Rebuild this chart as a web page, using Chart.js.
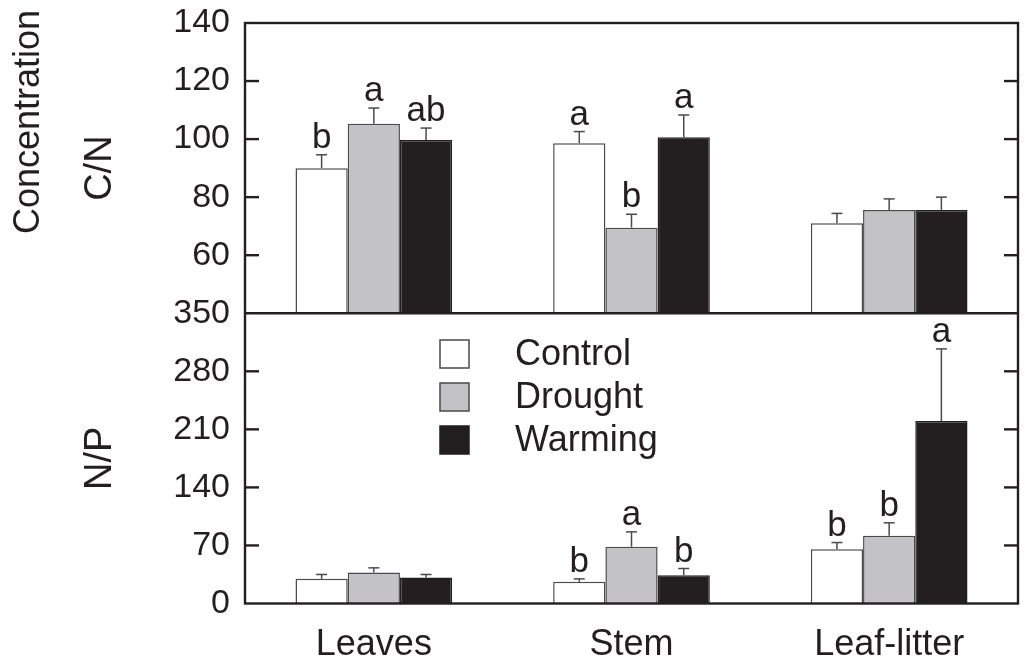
<!DOCTYPE html>
<html>
<head>
<meta charset="utf-8">
<title>C/N and N/P concentration ratios</title>
<script src="https://cdn.jsdelivr.net/npm/chart.js@4/dist/chart.umd.min.js"></script>
<style>
  html, body { margin: 0; padding: 0; background: #fff; }
  #wrap { position: relative; width: 1026px; height: 661px; }
</style>
</head>
<body>
<div id="wrap"><canvas id="ratios"></canvas></div>
<script>
// Plant tissue stoichiometry under three treatments (means + SE)
const categories = ["Leaves", "Stem", "Leaf-litter"];
const treatments = ["Control", "Drought", "Warming"];

// C/N ratio
const cnControl = [90, 98.6, 71];
const cnDrought = [105.3, 69.5, 75.6];
const cnWarming = [99.7, 100.6, 75.6];
const cnControlErr = [4.6, 4.0, 3.4];
const cnDroughtErr = [5.4, 4.6, 3.8];
const cnWarmingErr = [4.1, 7.7, 4.4];
const cnControlSig = ["b", "a", ""];
const cnDroughtSig = ["a", "b", ""];
const cnWarmingSig = ["ab", "a", ""];

// N/P ratio
const npControl = [29.7, 26.1, 65.5];
const npDrought = [37.4, 68.4, 81.6];
const npWarming = [31.4, 34.2, 220];
const npControlErr = [5.3, 3.6, 8];
const npDroughtErr = [5.6, 18, 15.7];
const npWarmingErr = [3.6, 8, 87];
const npControlSig = ["", "b", "b"];
const npDroughtSig = ["", "a", "b"];
const npWarmingSig = ["", "b", "a"];

const cnTicks = [40, 60, 80, 100, 120, 140];
const npTicks = [0, 70, 140, 210, 280, 350];

const INK = "#231f20";
const EDGE = "#4a4a4a";
const FONT = "'Liberation Sans', Arial, Helvetica, sans-serif";
const fills = ["#ffffff", "#c3c3c7", "#231f20"];

function barSet(label, idx, data, errors, letters, axis) {
  return {
    label,
    data,
    errors,
    letters,
    yAxisID: axis,
    stack: label,            // same slot for a treatment in both panels
    backgroundColor: fills[idx],
    borderColor: idx === 2 ? INK : EDGE,
    borderWidth: 1.5,
    barPercentage: 1.0,
    categoryPercentage: 0.608
  };
}

const datasets = [
  barSet("Control", 0, cnControl, cnControlErr, cnControlSig, "yCN"),
  barSet("Drought", 1, cnDrought, cnDroughtErr, cnDroughtSig, "yCN"),
  barSet("Warming", 2, cnWarming, cnWarmingErr, cnWarmingSig, "yCN"),
  barSet("Control", 0, npControl, npControlErr, npControlSig, "yNP"),
  barSet("Drought", 1, npDrought, npDroughtErr, npDroughtSig, "yNP"),
  barSet("Warming", 2, npWarming, npWarmingErr, npWarmingSig, "yNP")
];

function line(ctx, x1, y1, x2, y2) {
  ctx.beginPath();
  ctx.moveTo(x1, y1);
  ctx.lineTo(x2, y2);
  ctx.stroke();
}

// error bars (upper half only) and significance letters
const errorBars = {
  id: "errorBars",
  afterDatasetsDraw(chart) {
    const ctx = chart.ctx;
    ctx.save();
    chart.data.datasets.forEach((ds, i) => {
      const meta = chart.getDatasetMeta(i);
      const ys = chart.scales[ds.yAxisID];
      meta.data.forEach((bar, j) => {
        const top = ys.getPixelForValue(ds.data[j] + ds.errors[j]);
        ctx.strokeStyle = EDGE;
        ctx.lineWidth = 1.5;
        line(ctx, bar.x, bar.y, bar.x, top);
        line(ctx, bar.x - 5.5, top, bar.x + 5.5, top);
        if (ds.letters[j]) {
          ctx.fillStyle = INK;
          ctx.font = "35px " + FONT;
          ctx.textAlign = "center";
          ctx.textBaseline = "alphabetic";
          ctx.fillText(ds.letters[j], bar.x, top - 7);
        }
      });
    });
    ctx.restore();
  }
};

// box around both panels, divider and inward tick marks
const panelFrame = {
  id: "panelFrame",
  afterDraw(chart) {
    const { ctx, chartArea: a, scales } = chart;
    ctx.save();
    ctx.strokeStyle = INK;
    ctx.lineWidth = 2.4;
    ctx.strokeRect(a.left, a.top, a.right - a.left, a.bottom - a.top);
    line(ctx, a.left, scales.yCN.bottom, a.right, scales.yCN.bottom);
    ["yCN", "yNP"].forEach(id => {
      const s = scales[id];
      s.ticks.forEach(t => {
        if (t.value === s.min || t.value === s.max) return;
        const y = s.getPixelForValue(t.value);
        line(ctx, a.left, y, a.left + 14, y);
        line(ctx, a.right - 14, y, a.right, y);
      });
    });

    // shared axis title
    ctx.fillStyle = INK;
    ctx.font = "36px " + FONT;
    ctx.textAlign = "center";
    ctx.textBaseline = "middle";
    ctx.translate(29, 122);
    ctx.rotate(-Math.PI / 2);
    ctx.fillText("Concentration", 0, 0);
    ctx.restore();
  }
};

// legend inside the lower panel
const boxLegend = {
  id: "boxLegend",
  afterDraw(chart) {
    const ctx = chart.ctx;
    ctx.save();
    ctx.font = "36px " + FONT;
    ctx.textAlign = "left";
    ctx.textBaseline = "alphabetic";
    treatments.forEach((name, i) => {
      const y = 340 + i * 43;
      ctx.fillStyle = fills[i];
      ctx.fillRect(440, y, 29, 28);
      ctx.strokeStyle = i === 2 ? INK : EDGE;
      ctx.lineWidth = 1.5;
      ctx.strokeRect(440, y, 29, 28);
      ctx.fillStyle = INK;
      ctx.fillText(name, 515, y + 25);
    });
    ctx.restore();
  }
};

function yScale(ticks, title, weight) {
  return {
    type: "linear",
    position: "left",
    stack: "panels",
    stackWeight: 1,
    weight,
    stacked: false,
    min: ticks[0],
    max: ticks[ticks.length - 1],
    afterBuildTicks(s) { s.ticks = ticks.map(v => ({ value: v })); },
    afterFit(s) {
      s.width = 245;
      s.paddingTop = 0;
      s.paddingBottom = 0;
    },
    grid: { display: false, drawTicks: false },
    border: { display: false },
    ticks: {
      autoSkip: false,
      font: { family: FONT, size: 34 },
      color: INK,
      padding: 15,
      callback: v => (title === "C/N" && v === 40) ? "" : String(v)
    },
    title: {
      display: true,
      text: title,
      color: INK,
      font: { family: FONT, size: 38 },
      padding: { top: 78, bottom: 0 }
    }
  };
}

new Chart(document.getElementById("ratios"), {
  type: "bar",
  data: { labels: categories, datasets },
  options: {
    responsive: true,
    maintainAspectRatio: false,
    animation: false,
    layout: { padding: { top: 23, right: 8, bottom: 0, left: 0 } },
    plugins: { legend: { display: false }, tooltip: { enabled: false } },
    scales: {
      x: {
        grid: { display: false, drawTicks: false },
        border: { display: false },
        ticks: { font: { family: FONT, size: 36 }, color: INK, padding: 20 },
        afterFit(s) {
          s.height = 57.5;
          s.paddingLeft = 0;
          s.paddingRight = 0;
        }
      },
      yNP: yScale(npTicks, "N/P", 0),
      yCN: yScale(cnTicks, "C/N", 1)
    }
  },
  plugins: [errorBars, panelFrame, boxLegend]
});
</script>
</body>
</html>
